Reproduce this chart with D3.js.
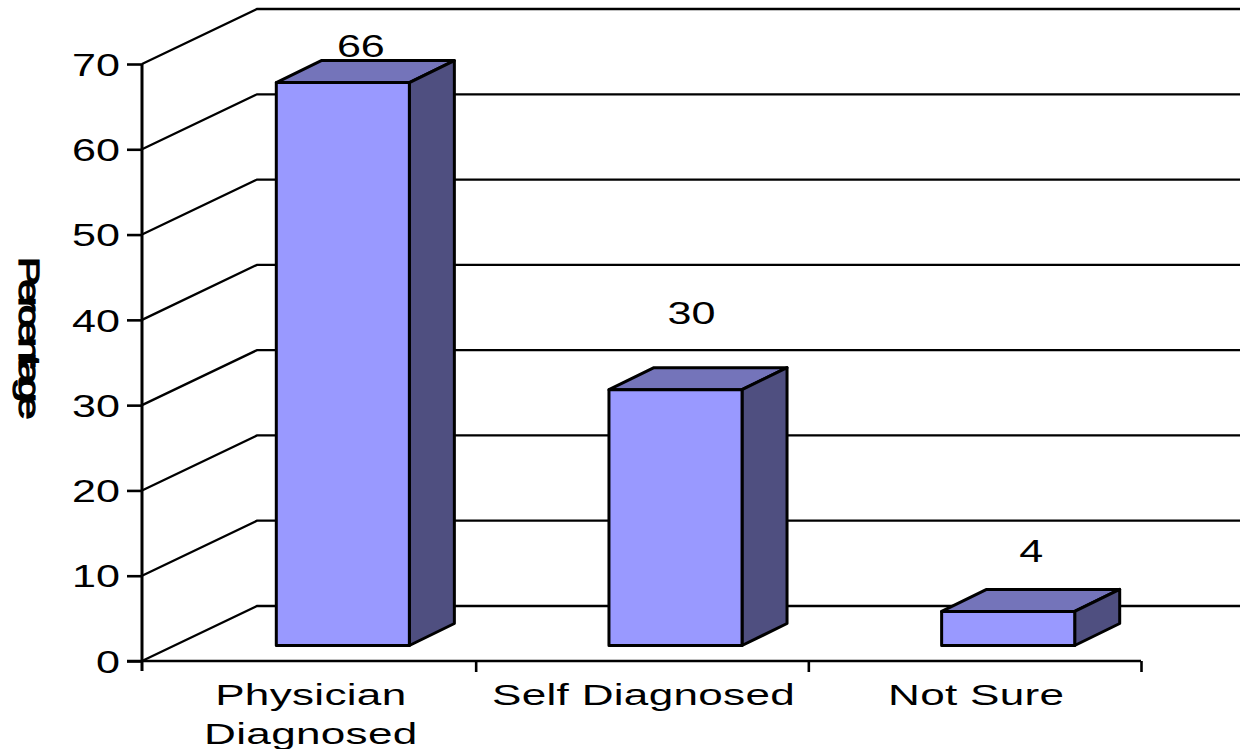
<!DOCTYPE html>
<html>
<head>
<meta charset="utf-8">
<script src="https://cdnjs.cloudflare.com/ajax/libs/d3/7.8.5/d3.min.js"></script>
<style>
    html, body { margin: 0; padding: 0; background: #fff; overflow: hidden; }
    text { font-family: "Liberation Sans", Arial, sans-serif; fill: #000; }
</style>
</head>
<body>
<div id="chart"></div>
<script>
// Data
const categories = ["Physician Diagnosed", "Self Diagnosed", "Not Sure"];
const categoryLines = [["Physician", "Diagnosed"], ["Self Diagnosed"], ["Not Sure"]];
const percentages = [66, 30, 4];
const yTicks = [0, 10, 20, 30, 40, 50, 60, 70];

// Data labels do not sit at a constant distance from their bars in the original
const labelLift = [37, 77, 61];
const labelShift = [18, 16, 23];

const width = 1240, height = 749;
const fontSize = 30, stretch = 1.47;
const numberSize = 31, numberStretch = 1.39;

// Wall depth of the 3D box, and how far the bars stand in front of the wall
const wallDx = 115, wallDy = 55;
const floorDx = 34.5, floorDy = 15.5;
const barDx = 45, barDy = 22;

const svg = d3.select("#chart").append("svg")
    .attr("width", width)
    .attr("height", height)
    .style("display", "block");

const y = d3.scaleLinear().domain([0, 70]).range([661, 64]);
const x = d3.scaleBand().domain(categories).range([142, 1140]);
const barWidth = x.bandwidth() * 0.4;

// Back wall grid lines
svg.append("g").selectAll("path")
    .data(yTicks)
    .enter().append("path")
    .attr("fill", "none")
    .attr("stroke", "#000")
    .attr("stroke-width", 2.3)
    .attr("d", d => {
        let p = d3.path();
        p.moveTo(142, y(d));
        p.lineTo(142 + wallDx, y(d) - wallDy);
        p.lineTo(width, y(d) - wallDy);
        return p.toString();
    });

// Bars
const bars = svg.append("g").selectAll("g")
    .data(categories)
    .enter().append("g")
    .attr("stroke", "#000")
    .attr("stroke-width", 3)
    .attr("stroke-linejoin", "round");

function barBox(i) {
    let cat = categories[i];
    let x0 = x(cat) + (x.bandwidth() - barWidth) / 2 + floorDx;
    return {x0: x0, x1: x0 + barWidth, top: y(percentages[i]) - floorDy, bottom: y(0) - floorDy};
}

bars.append("path")
    .attr("fill", "#7474BA")
    .attr("d", (d, i) => {
        let b = barBox(i);
        return `M${b.x0},${b.top}L${b.x0 + barDx},${b.top - barDy}L${b.x1 + barDx},${b.top - barDy}L${b.x1},${b.top}Z`;
    });

bars.append("path")
    .attr("fill", "#4F4F80")
    .attr("d", (d, i) => {
        let b = barBox(i);
        return `M${b.x1},${b.top}L${b.x1 + barDx},${b.top - barDy}L${b.x1 + barDx},${b.bottom - barDy}L${b.x1},${b.bottom}Z`;
    });

bars.append("rect")
    .attr("fill", "#9999FF")
    .attr("x", (d, i) => barBox(i).x0)
    .attr("y", (d, i) => barBox(i).top)
    .attr("width", barWidth)
    .attr("height", (d, i) => barBox(i).bottom - barBox(i).top);

// Y axis
const yAxis = svg.append("g")
    .attr("transform", "translate(142,0)")
    .call(d3.axisLeft(y).tickValues(yTicks).tickSize(15).tickPadding(0));

yAxis.select(".domain")
    .attr("d", `M0,${y(70)}V${y(0) + 10}`)
    .attr("stroke-width", 3);
yAxis.selectAll(".tick line").attr("stroke-width", 2.6);
yAxis.selectAll(".tick text")
    .attr("font-size", numberSize)
    .attr("font-family", null)
    .attr("x", 0)
    .attr("dy", "0.36em")
    .attr("text-anchor", "end")
    .attr("transform", `translate(-22,0) scale(${numberStretch},1)`);

// X axis
const xAxis = svg.append("g")
    .attr("transform", `translate(0,${y(0)})`)
    .call(d3.axisBottom(x).tickValues(categories).tickSize(0).tickFormat(""));

xAxis.select(".domain")
    .attr("d", "M127,0H1141")
    .attr("stroke-width", 2.6);

// Category boundaries rather than centres get the tick marks
xAxis.selectAll(".boundary")
    .data(categories)
    .enter().append("line")
    .attr("class", "boundary")
    .attr("stroke", "#000")
    .attr("stroke-width", 2.6)
    .attr("x1", d => x(d) + x.bandwidth() + 1.5)
    .attr("x2", d => x(d) + x.bandwidth() + 1.5)
    .attr("y1", 0)
    .attr("y2", 11);

// Category labels
categories.forEach((cat, i) => {
    categoryLines[i].forEach((line, j) => {
        svg.append("text")
            .attr("text-anchor", "middle")
            .attr("font-size", fontSize)
            .attr("letter-spacing", 0.2)
            .attr("transform", `translate(${x(cat) + x.bandwidth() / 2 + 2.5},${705 + j * 38.5}) scale(${stretch},1)`)
            .text(line);
    });
});

// Value labels
svg.append("g").selectAll("text")
    .data(percentages)
    .enter().append("text")
    .attr("text-anchor", "middle")
    .attr("font-size", numberSize)
    .attr("dy", "0.36em")
    .attr("transform", (d, i) => {
        let b = barBox(i);
        return `translate(${(b.x0 + b.x1) / 2 + labelShift[i]},${b.top - labelLift[i]}) scale(${numberStretch},1)`;
    })
    .text(d => d);

// Y axis title, squeezed so the letters run into each other
svg.append("text")
    .attr("text-anchor", "middle")
    .attr("font-size", 29)
    .attr("letter-spacing", -4.4)
    .attr("stroke", "#000")
    .attr("stroke-width", 1.2)
    .attr("transform", "translate(18.5,335) rotate(90) scale(1.5,1)")
    .text("Percentage");
</script>
</body>
</html>
